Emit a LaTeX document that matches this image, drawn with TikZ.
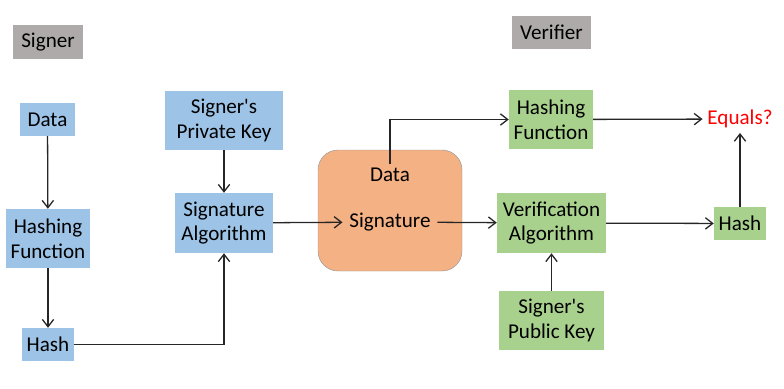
\documentclass[tikz,border=0pt]{standalone}
\usepackage{fontspec}
\setmainfont{Carlito}
\usepackage{tikz}
\usetikzlibrary{arrows.meta, positioning}

\definecolor{signblue}{HTML}{9DC3E6}
\definecolor{verigreen}{HTML}{A9D18E}
\definecolor{msgorange}{HTML}{F4B183}
\definecolor{rolegray}{HTML}{AEAAAA}
\definecolor{linegray}{HTML}{262626}

\begin{document}
\begin{tikzpicture}[
    x=0.03cm, y=-0.03cm,
    every node/.style={font=\fontsize{18}{21}\selectfont, inner sep=0pt, align=center},
    role/.style={rectangle, fill=rolegray, minimum width=2.1cm, minimum height=1cm},
    signer/.style={rectangle, fill=signblue, minimum height=1.77cm},
    verifier/.style={rectangle, fill=verigreen, minimum height=1.77cm},
    short/.style={minimum height=0.99cm, minimum width=1.56cm},
    arrow/.style={-{Straight Barb[length=2.2mm, width=3.4mm]}, line width=1.1pt, draw=linegray}
]
\useasboundingbox (0,0) rectangle (784,388);

% roles
\node[role] (signer) at (48,42) {Signer};
\node[role, minimum width=2.37cm] (verifier) at (551.5,32.5) {Verifier};

% signing side
\node[signer, short, minimum width=1.65cm] (data) at (47.5,119.5) {Data};
\node[signer, minimum width=2.52cm] (hashfn) at (48,238.5) {Hashing\\Function};
\node[signer, short] (hash) at (48,344.5) {Hash};
\node[signer, minimum width=3.54cm] (privkey) at (224,120.5) {Signer\textquotesingle s\\Private Key};
\node[signer, minimum width=2.94cm, minimum height=1.8cm] (sigalg) at (224,223) {Signature\\Algorithm};

% signed message
\node[rectangle, rounded corners=0.6cm, draw=gray!80, fill=msgorange,
      minimum width=4.32cm, minimum height=3.63cm] (msg) at (390,210.5) {};
\node[inner sep=3pt] (msgdata) at (390,175) {Data};
\node[inner sep=0.2cm] (msgsig) at (390,222) {Signature};

% verifying side
\node[verifier, minimum width=2.52cm] (vhashfn) at (551,119.5) {Hashing\\Function};
\node[verifier, minimum width=3.27cm, minimum height=1.8cm] (veralg) at (551.5,223) {Verification\\Algorithm};
\node[verifier, minimum width=3.15cm] (pubkey) at (551.5,320.5) {Signer\textquotesingle s\\Public Key};
\node[verifier, short] (vhash) at (740,223.5) {Hash};
\node[text=red, inner sep=4pt] (equals) at (740,119) {Equals?};

\foreach \src/\dst in {data/hashfn, hashfn/hash, privkey/sigalg, sigalg/msgsig, msgsig/veralg,
                       vhashfn/equals, veralg/vhash, vhash/equals, pubkey/veralg} {
    \draw[arrow] (\src) -- (\dst);
}
\draw[arrow] (hash.east) -| (sigalg.south);
\draw[arrow] (msgdata.north) |- (vhashfn.west);

\end{tikzpicture}
\end{document}
